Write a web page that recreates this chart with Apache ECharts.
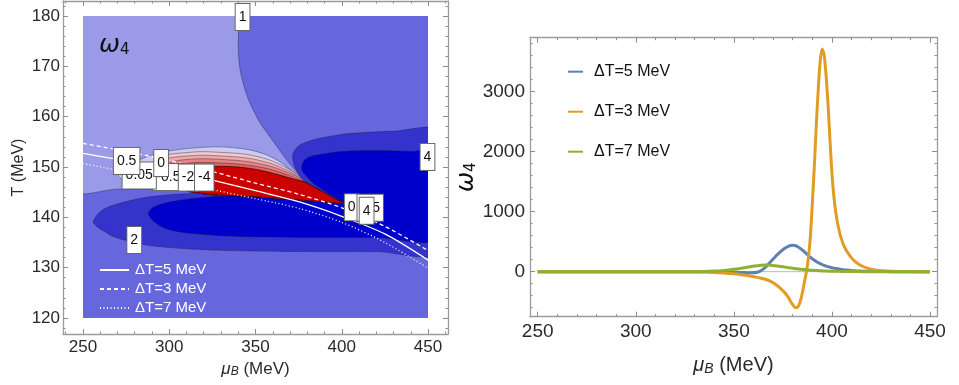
<!DOCTYPE html>
<html><head><meta charset="utf-8">
<script src="https://cdn.jsdelivr.net/npm/echarts@6/dist/echarts.min.js"></script>
<style>html,body{margin:0;padding:0;background:#fff}#c{width:959px;height:385px}</style>
</head><body><div id="c"></div>
<script>
// ---------- LEFT PANEL: contour regions of omega_4 in (mu_B, T) ----------
const regionMid = [[245,115],[455,115],[455,185],[245,185]];          // 1 < w4 < 2 (background level)
const regionLight = [[340.6,182],[340.6,180],[340.1,176],[340.0,173.2],[341.0,169.5],[342.9,166.6],[345.5,163.8],[348.7,161.3],[353,158.6],[358.4,156.0],[363,153.8],[368.1,151.4],[372,149.8],[375.8,148.2],[378.5,147.0],[372,146.3],[360,145.8],[345,145.5],[325,145.5],[300,145.6],[270,145.6],[244,145.6],[244,182]];
const regionRing = [[256,139.1],[258.5,140.6],[262,141.6],[267.6,142.4],[277,143.3],[287,144.0],[305,144.6],[325,144.8],[345,144.8],[362,145.0],[372,145.7],[378.5,147.0],[376,148],[374.8,148.7],[372.5,150.3],[371.5,152.0],[372.5,153.2],[375.5,154.3],[380,155.0],[387.4,155.7],[397,156.3],[406.7,156.7],[430,157.1],[457,157.0],[457,133.2],[420,133.2],[380,133.2],[350,133.3],[325,133.5],[300,134.0],[287,134.5],[276,135.3],[267.6,136.2],[262,137.3],[258,138.2]];
const regionDark = [[287.9,140.7],[290,141.8],[295,142.6],[306,143.4],[325,144.1],[345,144.3],[365,143.9],[385,143.4],[401,142.8],[392,144.8],[384,146.6],[379.5,148.2],[377,149.3],[376.8,150.1],[378,151.2],[381,152],[387.4,152.5],[400,153.1],[420,153.3],[440,153.1],[457,152.9],[457,135.9],[420,136.0],[380,136.0],[340,136.2],[320,136.6],[306,137.1],[297,137.9],[291,139.2]];
const redTopRight = [[384,146.0],[390,144.9],[396,143.7],[401,142.8]];
const redBottom = [[396,142.9],[385,143.2],[370,143.6],[350,144.1],[330,144.4],[318,144.8]];
const paleTop = [[270.5,148.2],[273,149.6],[280,151],[290,152.4],[300,153.2],[315,153.8],[330,154],[345,153.5],[355,152.6],[363,151.3],[370,149.5],[376,147.8],[378.5,147.0]];
const paleBottomLeft = [[305,145.8],[295,146.4],[285,146.7],[275,147.3]];
const pink1Top = [[292,151.7],[315,153.0],[330,152.9],[345,152.5],[358,151.4],[368,149.8],[375,148.3],[378.5,147.0]];
const pink2Top = [[296,151.3],[315,152.3],[330,152.2],[345,151.8],[358,150.8],[368,149.4],[375,148.1],[378.5,147.0]];
const pink3Top = [[300,150.8],[315,151.6],[330,151.5],[345,151.1],[358,150.2],[368,149.0],[375,147.9],[378.5,147.0]];
const pink4Top = [[305,150.3],[315,150.9],[330,150.8],[345,150.4],[358,149.6],[368,148.5],[374,147.7],[378.5,147.0]];
const redTop = [[310,148.6],[318,149.6],[325,150.1],[340,150.0],[352,149.4],[364,148.4],[372,147.6],[378.5,147.0]];
const pinkLeftClose = [[305,146.2],[296,148.5]];

// white Delta-T lines
const muL = [250,275,300,325,350,375,400,425,450];
const T_dT5 = [152.7,151.2,149.5,147.4,145.3,143.1,140.2,136.7,131.5];
const T_dT3 = [154.7,153.1,151.3,149.1,146.8,144.6,141.9,138.2,133.4];
const T_dT7 = [150.7,149.0,147.2,145.5,143.7,141.8,139.0,135.0,129.9];

// contour labels
const labText = ['1','4','2','-0.5','0.05','0.5','0','-2','-4','0','0.5','4'];
const labMu  = [342.5,449.7,279.7,299.5,282.6,275.3,295.3,310.9,320.3,405.8,416.5,414.4];
const labT   = [179.8,152.0,135.5,148.0,148.3,151.2,150.8,147.9,147.9,142.0,141.9,141.3];

// ---------- RIGHT PANEL: omega_4 along the lines ----------
const muR = [250,260,270,280,290,300,310,320,330,
  335,340,345,350, 353,356,359,362,
  364,366,368,370,372,374,376,378,
  379,380,381,382,383,384,385,386,387,388,389,390,391,392,393,394,395,396,397,398,399,400,401,402,403,404,405,406,
  408,410,412,415,418,422,426,430,440,450];
const w4_dT5 = [0,0,0,0,0,0,0,0,0,
  -1,-3,-6,-10, -12,-15,-16,-8,
  20,70,140,210,280,340,390,425,
  436,440,436,425,407,385,358,330,300,270,242,215,192,170,152,135,120,105,94,84,75,67,60,54,48,43,38,34,
  27,21,16,11,7,4,2,1,0,0];
const w4_dT3 = [0,0,0,0,0,0,0,0,0,
  -5,-12,-22,-35, -45,-58,-75,-95,
  -110,-125,-150,-185,-230,-285,-350,-440,
  -500,-550,-590,-600,-570,-480,-340,-170,0,230,580,1130,1740,2420,3020,3500,3710,3620,3280,2800,2200,1640,1250,980,790,640,530,440,
  320,230,165,100,60,30,15,7,2,0];
const w4_dT7 = [0,0,0,0,0,0,0,0,1,
  3,10,22,40, 54,70,86,100,
  107,112,110,104,96,87,77,67,
  62,57,53,49,45,41,38,35,32,29,26,24,22,20,18,16,14,13,11,10,9,8,7,6,6,5,5,4,
  3,2,2,1,1,0,0,0,0,0];

// tick labels
const xMajorL = [250,300,350,400,450];
const yMajorL = [120,130,140,150,160,170,180];
const xMajorR = [250,300,350,400,450];
const yMajorR = [0,1000,2000,3000];

function minors(from,to,step,majors){const a=[];for(let v=from;v<=to+1e-9;v+=step){const r=Math.round(v*100)/100;if(!majors.includes(r))a.push(r);}return a;}
const xMinorL = minors(240,460,10,xMajorL);
const yMinorL = minors(118,182,2,yMajorL);
const xMinorR = minors(250,450,10,xMajorR);
const yMinorR = minors(-600,3800,200,yMajorR);

const F = 'Liberation Sans, Arial, sans-serif';
const FRAME = {color:'#9c9c9c', width:1.3};
const TICK = {color:'#8c8c8c', width:1};

function frameAxes(gi,isX,min,max,major,minor,labelOpts,nameOpts){
  const p1 = isX?'bottom':'left', p2 = isX?'top':'right';
  const base = {gridIndex:gi,type:'value',min:min,max:max,splitLine:{show:false}};
  return [
    Object.assign({},base,{position:p1,axisLine:{show:true,onZero:false,lineStyle:FRAME},
      axisTick:{show:true,inside:true,length:5,customValues:major,lineStyle:TICK},
      axisLabel:Object.assign({show:true,customValues:major,fontFamily:F,color:'#2a2a2a',formatter:v=>String(v)},labelOpts)},nameOpts||{}),
    Object.assign({},base,{position:p1,axisLine:{show:false,onZero:false},
      axisTick:{show:true,inside:true,length:2.5,customValues:minor,lineStyle:TICK},axisLabel:{show:false}}),
    Object.assign({},base,{position:p2,axisLine:{show:true,onZero:false,lineStyle:FRAME},
      axisTick:{show:true,inside:true,length:5,customValues:major,lineStyle:TICK},axisLabel:{show:false}}),
    Object.assign({},base,{position:p2,axisLine:{show:false,onZero:false},
      axisTick:{show:true,inside:true,length:2.5,customValues:minor,lineStyle:TICK},axisLabel:{show:false}})
  ];
}

function richMu(size,sub){
  return {rich:{
    m:{fontSize:size,fontStyle:'italic',fontFamily:F,color:'#2a2a2a',lineHeight:size+3,verticalAlign:'bottom'},
    b:{fontSize:sub,fontStyle:'italic',fontFamily:F,color:'#2a2a2a',lineHeight:sub-3,verticalAlign:'bottom'},
    n:{fontSize:size,fontFamily:F,color:'#2a2a2a',lineHeight:size+3,verticalAlign:'bottom'}}};
}
function richW(size,sub){
  return {fontWeight:'normal',rich:{
    w:{fontSize:size,fontStyle:'italic',fontWeight:'normal',fontFamily:'DejaVu Sans, sans-serif',color:'#111',lineHeight:size+2,verticalAlign:'bottom'},
    s:{fontSize:sub,fontWeight:'normal',fontFamily:'DejaVu Sans, sans-serif',color:'#111',lineHeight:sub-4,verticalAlign:'bottom'}}};
}

const xAxes = [].concat(
  frameAxes(0,true,238.406,461.594,xMajorL,xMinorL,{fontSize:17,margin:5},
    {name:'{m|μ}{b|B}{n| (MeV)}',nameLocation:'middle',nameGap:24,nameTextStyle:richMu(17,12)}),
  [{gridIndex:1,type:'value',min:250,max:450,show:false}],
  frameAxes(2,true,246.075,453.57,xMajorR,xMinorR,{fontSize:19,margin:6},
    {name:'{m|μ}{b|B}{n| (MeV)}',nameLocation:'middle',nameGap:36,nameTextStyle:richMu(20,14)})
);
const yAxes = [].concat(
  frameAxes(0,false,116.821,182.98,yMajorL,yMinorL,{fontSize:17,margin:3},
    {name:'T (MeV)',nameLocation:'middle',nameGap:36,nameTextStyle:{fontSize:16,fontFamily:F,color:'#2a2a2a'}}),
  [{gridIndex:1,type:'value',min:120,max:180,show:false}],
  frameAxes(2,false,-750,3900,yMajorR,yMinorR,{fontSize:19,margin:5},
    {name:'{w|ω}{s|4}',nameLocation:'middle',nameGap:42,nameRotate:90,nameTextStyle:richW(24,15)})
);
const LX = 4, LY = 4, RX = 5, RY = 5;   // axis indices: hidden left plot axes, right-panel main axes

function region(points,fill,stroke,smooth){
  return {type:'custom',coordinateSystem:'cartesian2d',xAxisIndex:LX,yAxisIndex:LY,clip:true,silent:true,
    data:[[350,150]],
    renderItem:function(params,api){
      return {type:'polygon',shape:{points:points.map(p=>api.coord(p)),smooth:smooth},
        style:{fill:fill,stroke:stroke||null,lineWidth:0.7}};
    }};
}
const LINE = 'rgba(20,20,50,0.55)';
function curve(name,xa,ya,xs,ys,color,width,type,smooth,z){
  return {name:name,type:'line',xAxisIndex:xa,yAxisIndex:ya,symbol:'none',smooth:smooth,silent:true,z:z,
    itemStyle:{color:color},lineStyle:{color:color,width:width,type:type},data:xs.map((m,i)=>[m,ys[i]])};
}
const series = [
  region(regionMid,'#6666dd',null,0),
  region(regionLight,'#9a9ae8',LINE,0.3),
  region(regionRing,'#3434cc',LINE,0.3),
  region(regionDark,'#0000cc',LINE,0.3),
  region(paleTop.concat(redTopRight,redBottom,paleBottomLeft),'#ccccf0',LINE,0.3),
  region(pink1Top.concat(redTopRight,redBottom,pinkLeftClose),'#f2c8cf',LINE,0.3),
  region(pink2Top.concat(redTopRight,redBottom,pinkLeftClose),'#f0a6a6',LINE,0.3),
  region(pink3Top.concat(redTopRight,redBottom,pinkLeftClose),'#e88484',LINE,0.3),
  region(pink4Top.concat(redTopRight,redBottom,pinkLeftClose),'#e06262',LINE,0.3),
  region(redTop.concat(redTopRight,redBottom,[[310,145.4]]),'#cc0000','rgba(0,0,0,0.8)',0.3),
  curve('L5',LX,LY,muL,T_dT5,'#ffffff',1.3,'solid',0.3,3),
  curve('L3',LX,LY,muL,T_dT3,'#ffffff',1.3,[4,3],0.3,3),
  curve('L7',LX,LY,muL,T_dT7,'#ffffff',1.3,[1,2.5],0.3,3),
  {type:'scatter',xAxisIndex:LX,yAxisIndex:LY,symbol:'circle',symbolSize:0,itemStyle:{color:'#ffffff',opacity:1},silent:true,clip:false,z:6,
    data:labText.map((t,i)=>({name:t,value:[labMu[i],labT[i]]})),
    label:{show:true,position:'inside',formatter:'{b}',fontSize:14,fontFamily:F,color:'#111',opacity:1,
      backgroundColor:'#ffffff',borderColor:'#666666',borderWidth:1,padding:[6,3,6,3]}},
  // right panel
  curve('zero',RX,RY,[250,450],[0,0],'#b8b8b8',1,'solid',false,1),
  curve('ΔT=5 MeV',RX,RY,muR,w4_dT5,'#5e81b5',3,'solid',0.25,2),
  curve('ΔT=3 MeV',RX,RY,muR,w4_dT3,'#e19c24',3,'solid',0.25,2),
  curve('ΔT=7 MeV',RX,RY,muR,w4_dT7,'#8fb032',3,'solid',0.25,2)
];
const leftNames = {L5:'ΔT=5 MeV',L3:'ΔT=3 MeV',L7:'ΔT=7 MeV'};

const option = {
  animation:false,
  backgroundColor:'#fff',
  grid:[
    {left:63,top:1,width:385,height:333},
    {left:83,top:16,width:345,height:302},
    {left:530,top:37.7,width:407,height:279}
  ],
  xAxis:xAxes,
  yAxis:yAxes,
  title:{text:'{w|ω}{s|4}',left:94,top:26,textStyle:richW(25,15)},
  legend:[
    {data:['L5','L3','L7'],formatter:n=>leftNames[n],orient:'vertical',left:94,top:257,
     itemWidth:29,itemHeight:10,itemGap:3,selectedMode:false,
     itemStyle:{color:'rgba(0,0,0,0)',borderWidth:0,opacity:0},
     textStyle:{color:'#fff',fontSize:15,fontFamily:F,lineHeight:16,padding:[0,0,0,1]}},
    {data:['ΔT=5 MeV','ΔT=3 MeV','ΔT=7 MeV'],orient:'vertical',left:562,top:56.7,
     itemWidth:15,itemHeight:14,itemGap:20,selectedMode:false,lineStyle:{width:2},
     itemStyle:{color:'rgba(0,0,0,0)',borderWidth:0,opacity:0},
     textStyle:{color:'#111',fontSize:16,fontFamily:F,lineHeight:20,padding:[0,0,0,6]}}
  ],
  series:series
};
const chart = echarts.init(document.getElementById('c'),null,{renderer:'canvas'});
chart.setOption(option);
</script></body></html>
